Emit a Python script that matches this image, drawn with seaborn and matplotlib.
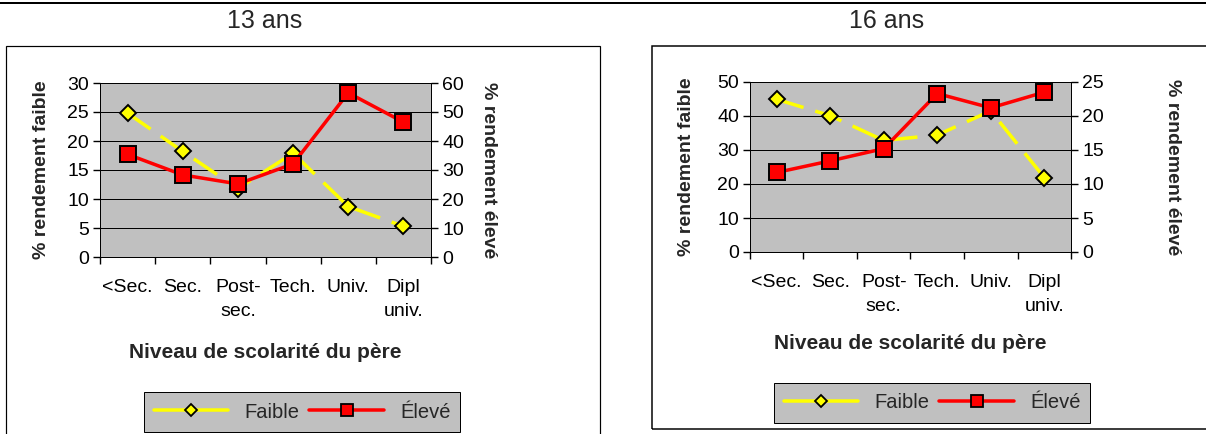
import numpy as np
import pandas as pd
import matplotlib
matplotlib.use("Agg")
import matplotlib.pyplot as plt
from matplotlib.lines import Line2D
from matplotlib.patches import Rectangle
import seaborn as sns

# ---- data ----
categories = ["<Sec.", "Sec.", "Post-\nsec.", "Tech.", "Univ.", "Dipl\nuniv."]
faible_13 = [24.8, 18.2, 11.8, 17.9, 8.7, 5.3]
eleve_13 = [35.4, 28.3, 25.2, 32.1, 56.6, 46.5]
faible_16 = [44.9, 40.1, 32.8, 34.4, 41.5, 21.9]
eleve_16 = [11.7, 13.4, 15.2, 23.3, 21.2, 23.5]
titles = ["13 ans", "16 ans"]
left_ticks_13 = [0, 5, 10, 15, 20, 25, 30]
right_ticks_13 = [0, 10, 20, 30, 40, 50, 60]
left_ticks_16 = [0, 10, 20, 30, 40, 50]
right_ticks_16 = [0, 5, 10, 15, 20, 25]
xlabel = "Niveau de scolarité du père"
ylabel_left = "% rendement faible"
ylabel_right = "% rendement élevé"
legend_labels = ["Faible", "Élevé"]

sns.set_style("white")
plt.rcParams["font.family"] = ["Liberation Sans", "DejaVu Sans"]

W, H = 1206, 434
fig = plt.figure(figsize=(W / 100, H / 100), dpi=100)

def fx(px):
    return px / W

def fy(py):
    return 1 - py / H

YELLOW = "#FFFF00"
RED = "#FF0000"
GRAY = "#C0C0C0"
PX = 0.72  # points per pixel

# top rule of the page
fig.add_artist(Line2D([0, 1], [fy(3), fy(3)], transform=fig.transFigure, color="black", lw=2 * PX))

# chart frames
fig.add_artist(Rectangle((fx(6), fy(445)), fx(600) - fx(6), fy(46) - fy(445), transform=fig.transFigure,
                         fill=False, edgecolor="black", lw=1.2 * PX))
fig.add_artist(Rectangle((fx(652), fy(429)), fx(1215) - fx(652), fy(46) - fy(429), transform=fig.transFigure,
                         fill=False, edgecolor="black", lw=1.5 * PX))


def panel(box, faible, eleve, lticks, rticks, title, title_x, xlab_y, legend_c,
          ylab_lx, ylab_rx, rows_pad):
    x0, y0, x1, y1 = box
    ax = fig.add_axes([fx(x0), fy(y1), fx(x1) - fx(x0), fy(y0) - fy(y1)])
    ax.set_facecolor(GRAY)
    df = pd.DataFrame({"cat": categories, "faible": faible, "eleve": eleve})
    sns.lineplot(data=df, x="cat", y="faible", ax=ax, sort=False, color=YELLOW,
                 linestyle=(0, (8, 3.5)), lw=3.5 * PX, marker="D", markersize=8,
                 markerfacecolor=YELLOW, markeredgecolor="black", markeredgewidth=1.4, zorder=3)
    ax2 = ax.twinx()
    sns.lineplot(data=df, x="cat", y="eleve", ax=ax2, sort=False, color=RED,
                 lw=3.5 * PX, marker="s", markersize=11.5,
                 markerfacecolor=RED, markeredgecolor="black", markeredgewidth=1.4, zorder=3)
    ax.set_xlim(-0.5, len(categories) - 0.5)
    ax.set_ylim(lticks[0], lticks[-1])
    ax2.set_ylim(rticks[0], rticks[-1])
    ax.set_yticks(lticks)
    ax2.set_yticks(rticks)
    ax.set_xticks(range(len(categories)))
    ax.set_xticklabels(categories, linespacing=1.58)
    ax.set_xticks(np.arange(-0.5, len(categories)), minor=True)
    ax.tick_params(axis="x", which="major", length=0, pad=rows_pad, labelsize=14, colors="black")
    ax.tick_params(axis="x", which="minor", length=5, width=1, direction="out", color="black", bottom=True)
    ax.tick_params(axis="y", length=5, width=1, direction="out", labelsize=14, pad=3, colors="black", left=True)
    ax2.tick_params(axis="y", length=5, width=1, direction="out", labelsize=14, pad=3, colors="black", right=True)
    ax.grid(axis="y", color="black", lw=1 * PX)
    ax.grid(axis="x", visible=False)
    ax.set_axisbelow(True)
    for a in (ax, ax2):
        for s in a.spines.values():
            s.set_color("black")
            s.set_linewidth(1 * PX)
            s.set_visible(True)
    ax.set_ylabel(ylabel_left, fontsize=14, fontweight="bold", va="center")
    ax.yaxis.set_label_coords((ylab_lx - x0) / (x1 - x0), 0.5)
    ax2.set_ylabel(ylabel_right, fontsize=14, fontweight="bold", va="center", rotation=270)
    ax2.yaxis.set_label_coords((ylab_rx - x0) / (x1 - x0), 0.5)
    ax.set_xlabel(xlabel, fontsize=15, fontweight="bold", va="center")
    ax.xaxis.set_label_coords(0.5, (y1 - xlab_y) / (y1 - y0))
    fig.text(fx(title_x), fy(21), title, fontsize=18, ha="center", va="center")

    handles = [
        Line2D([], [], color=YELLOW, lw=3.5 * PX, marker="D", markersize=6,
               markerfacecolor=YELLOW, markeredgecolor="black", markeredgewidth=1.3),
        Line2D([], [], color=RED, lw=3.5 * PX, marker="s", markersize=8,
               markerfacecolor=RED, markeredgecolor="black", markeredgewidth=1.3),
    ]
    leg = fig.legend(handles, legend_labels, loc="center", bbox_to_anchor=(fx(legend_c[0]), fy(legend_c[1])),
                     ncol=2, fontsize=14.5, frameon=True, fancybox=False, framealpha=1,
                     facecolor=GRAY, edgecolor="black", handlelength=3.7, handletextpad=0.8,
                     columnspacing=0.5, borderpad=0.5, borderaxespad=0)
    leg.get_frame().set_linewidth(1 * PX)
    return ax, ax2


panel((100, 83, 431, 257), faible_13, eleve_13, left_ticks_13, right_ticks_13, titles[0], 265, 352,
      (302, 412), 42, 488, 15.5)
panel((750, 82, 1071, 252), faible_16, eleve_16, left_ticks_16, right_ticks_16, titles[1], 887, 343,
      (932, 403), 687, 1173, 15.5)

fig.savefig("out.png", dpi=100)
